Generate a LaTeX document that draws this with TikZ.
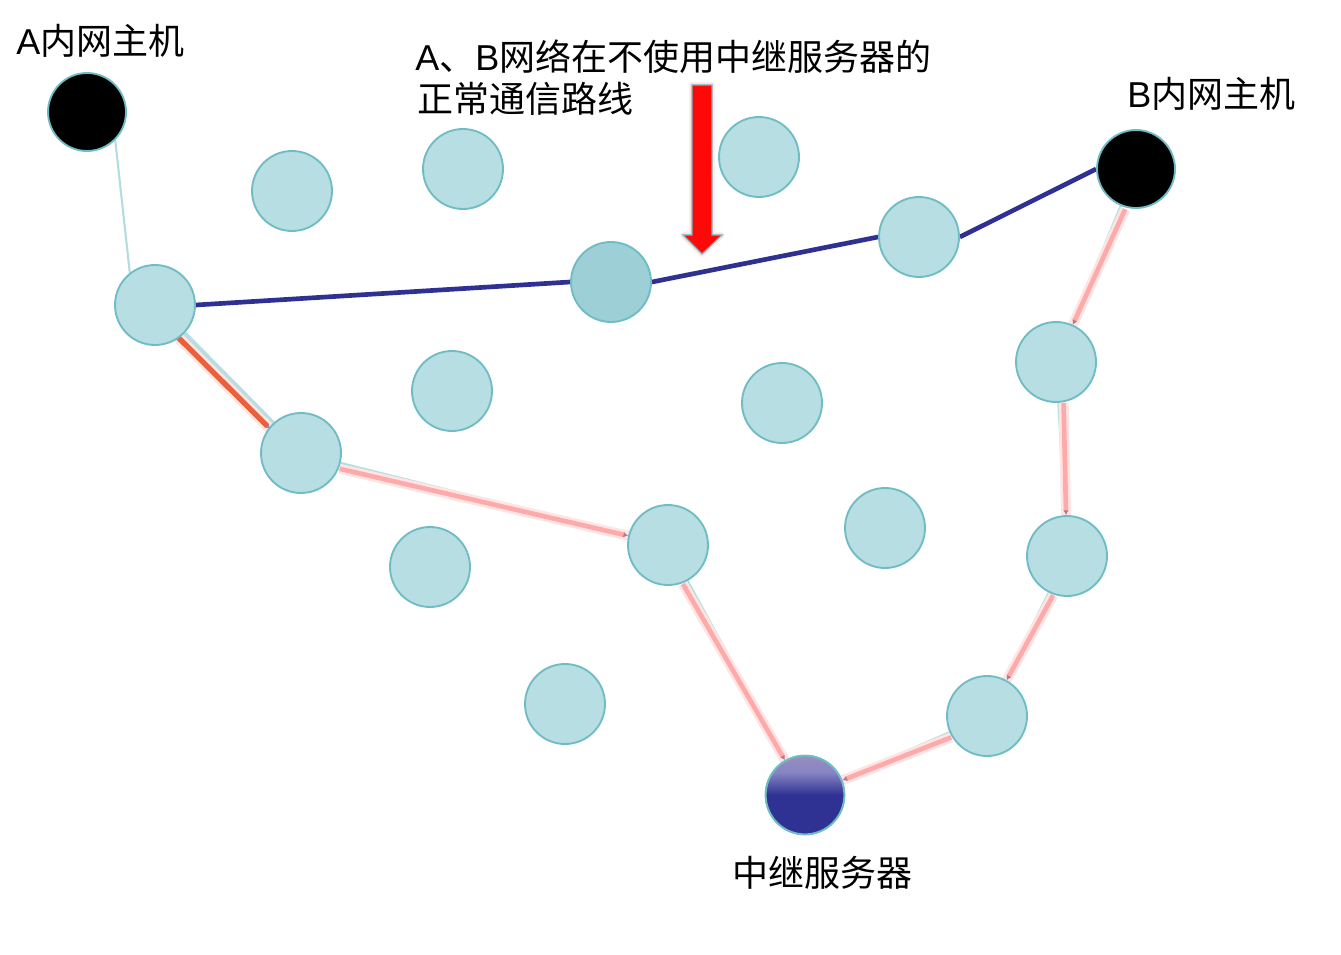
\documentclass[tikz,border=0pt]{standalone}
\usepackage{fontspec}
\setmainfont{Liberation Sans}
\newfontfamily\cjk{Noto Sans CJK SC}
\usetikzlibrary{calc,backgrounds,arrows.meta}
\definecolor{nodefill}{HTML}{B7DEE2}
\definecolor{nodeline}{HTML}{6FBCC4}
\definecolor{darkfill}{HTML}{9CCFD6}
\definecolor{pathblue}{HTML}{2E3192}
\definecolor{pinkline}{HTML}{FFAAAA}
\definecolor{pinkglow}{HTML}{FFE4E4}
\definecolor{tealthin}{HTML}{B3DDE0}
\definecolor{redorange}{HTML}{E8603C}
\definecolor{arrowred}{HTML}{FF0808}
\definecolor{relaytop}{HTML}{A092BC}
\definecolor{relaymid}{HTML}{8684C4}
\definecolor{relaydark}{HTML}{2F3293}
\definecolor{markcol}{HTML}{B07A90}
% #1 source, #2 target, #3 side angle
\newcommand\relayedge[3]{%
  \draw[tealedge] (#1) -- (#2);
  \draw[pinkglowedge] ($(#1)!5pt!#3:(#2)$) -- (#2);
  \draw[pinkedge] ($(#1)!5pt!#3:(#2)$) -- (#2);
}
\begin{document}
\begin{tikzpicture}[x=0.75pt,y=-0.75pt,
  peer/.style={circle,draw=nodeline,line width=1.4pt,fill=nodefill,minimum size=60pt,inner sep=0pt},
  busy/.style={peer,fill=darkfill},
  host/.style={circle,draw=nodeline,line width=1.4pt,fill=black,minimum size=58.5pt,inner sep=0pt},
  relay/.style={circle,draw=nodeline,line width=1.4pt,minimum size=59pt,inner sep=0pt},
  label/.style={anchor=base west,inner sep=0pt,font=\fontsize{27}{31}\selectfont},
  bluepath/.style={draw=pathblue,line width=3.5pt},
  tealedge/.style={draw=tealthin,line width=1.6pt},
  pinkedge/.style={draw=pinkline,line width=3.5pt,shorten <=31pt,
    -{Latex[length=3.5pt,width=4pt,color=markcol]}},
  pinkglowedge/.style={draw=pinkglow,line width=7.5pt,shorten <=31pt},
]
\useasboundingbox (0,0) rectangle (1341,955);

% nodes
\node[host] (A) at (87,112) {};
\node[host] (B) at (1136,169) {};
\node[peer] (n1) at (292,191) {};
\node[peer] (n2) at (463,169) {};
\node[peer] (n3) at (759,157) {};
\node[peer] (n4) at (155,305) {};
\node[busy] (n5) at (611,282) {};
\node[peer] (n6) at (919,237) {};
\node[peer] (n7) at (1056,362) {};
\node[peer] (n8) at (452,391) {};
\node[peer] (n9) at (782,403) {};
\node[peer] (n10) at (301,453) {};
\node[peer] (n11) at (885,528) {};
\node[peer] (n12) at (668,545) {};
\node[peer] (n13) at (1067,556) {};
\node[peer] (n14) at (430,567) {};
\node[peer] (n15) at (565,704) {};
\node[peer] (n16) at (987,716) {};
\node[relay] (R) at (805,795) {};
\begin{scope}
  \clip (R.center) circle[radius=29.5pt];
  \fill[relaydark] (R.center) circle[radius=30pt];
  \shade[top color=relaytop,bottom color=relaydark,middle color=relaymid]
    ($(R.center)+(-45,-45)$) rectangle ($(R.center)+(45,0)$);
\end{scope}
\draw[nodeline,line width=1.4pt] (R.center) circle[radius=29.5pt];

% connectors
\begin{scope}[on background layer]
  \fill[white] (0,0) rectangle (1341,955);
  \draw[tealedge] (A.-45) -- (n4.128);
  \draw[bluepath] (n4.east) -- (n5.west);
  \draw[bluepath] (n5.east) -- (n6.west);
  \draw[bluepath] (n6.east) -- (B.west);
  \draw[draw=nodefill,line width=5pt] (n4) -- (n10);
  \draw[draw=pinkglow,line width=8pt,shorten <=29pt,shorten >=29pt] ($(n4)!5pt!-90:(n10)$) -- ($(n10)!3.5pt!90:(n4)$);
  \draw[draw=redorange,line width=4pt,shorten <=29pt,shorten >=29pt,-{Latex[length=3.5pt,width=4pt,color=markcol]}] ($(n4)!5pt!-90:(n10)$) -- ($(n10)!3.5pt!90:(n4)$);
  \relayedge{n10}{n12}{-90}
  \relayedge{n12}{R}{-90}
  \relayedge{B}{n7}{90}
  \relayedge{n7}{n13}{90}
  \relayedge{n13}{n16}{90}
  \relayedge{n16}{R}{90}
\end{scope}

% red arrow
\draw[pinkglow,line width=4pt,line join=round,fill=arrowred]
  (692,85) -- (712,85) -- (712,235) -- (722,235) -- (702,254) -- (683,235) -- (692,235) -- cycle;
\draw[nodeline,line width=0.9pt,fill=arrowred,line join=miter]
  (692,85) -- (712,85) -- (712,235) -- (722,235) -- (702,254) -- (683,235) -- (692,235) -- cycle;

% labels
\node[label] (la) at (16,55) {A{\cjk 内网主机}};
\node[label] (lb) at (1127,108) {B{\cjk 内网主机}};
\node[label] (t1) at (415,71) {A{\cjk 、}B{\cjk 网络在不使用中继服务器的}};
\node[label] (t2) at (417,113) {\cjk 正常通信路线};
\node[label] (lr) at (732,886) {\cjk 中继服务器};
\end{tikzpicture}
\end{document}
